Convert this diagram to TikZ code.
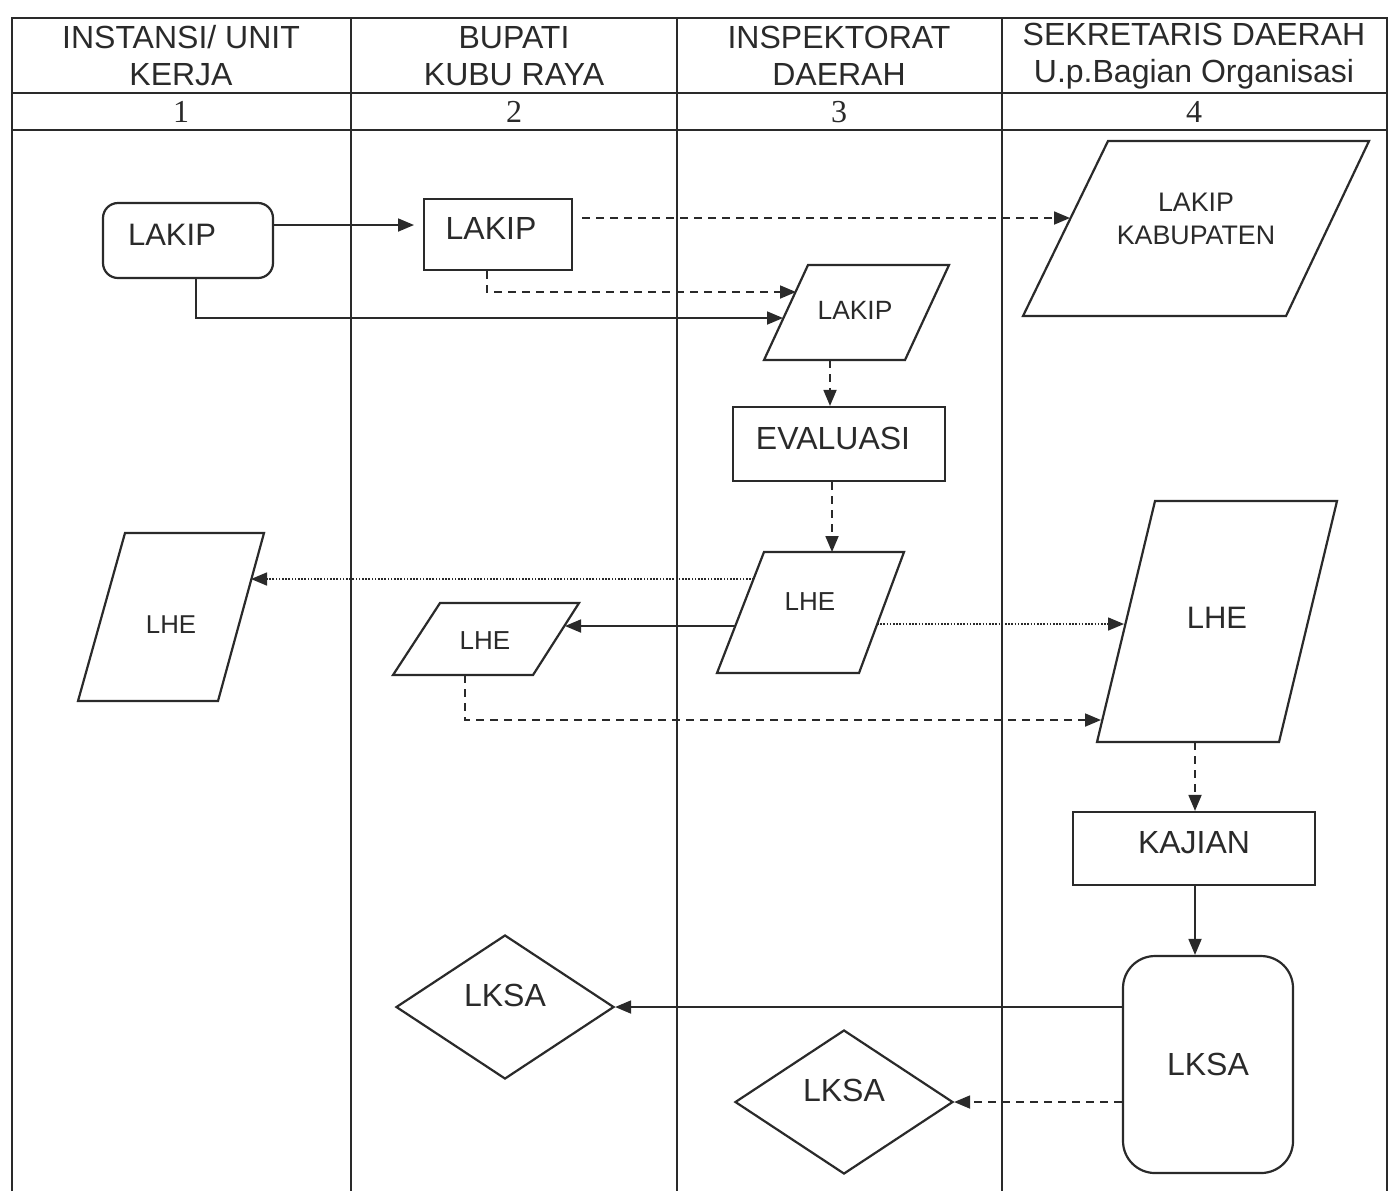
\documentclass[tikz,border=0pt]{standalone}
\usepackage{fontspec}
\setmainfont{Liberation Sans}
\newfontfamily\serifnum{Liberation Serif}
\usetikzlibrary{shapes.geometric,arrows.meta}
\definecolor{ink}{HTML}{2A2A2A}
\begin{document}
\begin{tikzpicture}[x=0.5pt,y=-0.5pt,
  tbl/.style={draw=ink,line width=0.8pt},
  shp/.style={draw=ink,line width=1.1pt,inner sep=0pt},
  arr/.style={draw=ink,line width=0.9pt,-{Triangle[length=8pt,width=6.5pt]}},
  dsh/.style={arr,dash pattern=on 4pt off 3pt},
  dtt/.style={arr,line width=0.8pt,dash pattern=on 0.8pt off 0.8pt},
  hdr/.style={font=\fontsize{16}{18.5}\selectfont,align=center,text=ink},
  num/.style={font=\serifnum\fontsize{16}{18}\selectfont,text=ink},
  lbl/.style={font=\fontsize{#1}{#1}\selectfont,text=ink,inner sep=0pt}]
\useasboundingbox (0,0) rectangle (1395,1191);
\fill[white] (0,0) rectangle (1395,1191);
% table
\draw[tbl] (12,1191) -- (12,18) -- (1387,18) -- (1387,1191);
\draw[tbl] (12,93) -- (1387,93);
\draw[tbl] (12,130) -- (1387,130);
\draw[tbl] (351,18) -- (351,1191);
\draw[tbl] (677,18) -- (677,1191);
\draw[tbl] (1002,18) -- (1002,1191);
\node[hdr] (h1) at (181,56) {INSTANSI/ UNIT\\KERJA};
\node[hdr] (h2) at (514,56) {BUPATI\\KUBU RAYA};
\node[hdr] (h3) at (839,56) {INSPEKTORAT\\DAERAH};
\node[hdr] (h4) at (1194,56) {SEKRETARIS DAERAH\\U.p.Bagian Organisasi};
\node[num] (n1) at (181,112) {1};
\node[num] (n2) at (514,112) {2};
\node[num] (n3) at (839,112) {3};
\node[num] (n4) at (1194,112) {4};
% boxes
\node[shp,rectangle,rounded corners=7.5pt,minimum width=85pt,minimum height=37.5pt,
  label={[lbl=15.5,xshift=-8pt,yshift=2.75pt]center:LAKIP}] (lk1) at (188,240.5) {};
\node[shp,rectangle,minimum width=74pt,minimum height=35.5pt,
  label={[lbl=16,xshift=-3.5pt,yshift=3.25pt]center:LAKIP}] (lk2) at (498,234.5) {};
\node[shp,rectangle,minimum width=106pt,minimum height=37pt,
  label={[lbl=16,xshift=-3pt,yshift=3pt]center:EVALUASI}] (ev) at (839,444) {};
\node[shp,rectangle,minimum width=121pt,minimum height=36.5pt,
  label={[lbl=16,yshift=2.75pt]center:KAJIAN}] (kj) at (1194,848.5) {};
\node[shp,rectangle,rounded corners=16pt,minimum width=85pt,minimum height=108.5pt,
  label={[lbl=16]center:LKSA}] (lks) at (1208,1064.5) {};
\node[shp,diamond,minimum width=109pt,minimum height=72pt,
  label={[lbl=16,yshift=6pt]center:LKSA}] (d1) at (505,1007) {};
\node[shp,diamond,minimum width=109pt,minimum height=72pt,
  label={[lbl=16,yshift=6pt]center:LKSA}] (d2) at (844,1102) {};
% parallelograms
\draw[shp] (1108,141) -- (1369,141) -- (1286,316) -- (1023,316) -- cycle;
\node[lbl=13.4,align=center] (pkab) at (1196,219) {LAKIP\\[3pt]KABUPATEN};
\draw[shp] (808,265) -- (949,265) -- (905,360) -- (764,360) -- cycle;
\node[lbl=13.2] (plk3) at (855,310) {LAKIP};
\draw[shp] (125,533) -- (264,533) -- (218,701) -- (78,701) -- cycle;
\node[lbl=12.9] (phe1) at (171,625) {LHE};
\draw[shp] (440,603) -- (579,603) -- (533,675) -- (393,675) -- cycle;
\node[lbl=13] (phe2) at (485,641) {LHE};
\draw[shp] (764,552) -- (904,552) -- (859,673) -- (717,673) -- cycle;
\node[lbl=13] (phe3) at (810,602) {LHE};
\draw[shp] (1155,501) -- (1337,501) -- (1279,742) -- (1097,742) -- cycle;
\node[lbl=15.5] (phe4) at (1217,618) {LHE};
% connector end points on parallelogram edges
\coordinate (kabW) at (1070,218);
\coordinate (lk3Wa) at (796,292);
\coordinate (lk3Wb) at (783,318);
\coordinate (lk3S) at (830,360);
\coordinate (he3N) at (832,552);
\coordinate (he3Wa) at (754,579);
\coordinate (he1E) at (251,579);
\coordinate (he3Wb) at (735,626);
\coordinate (he2E) at (565,626);
\coordinate (he3E) at (877,624);
\coordinate (he4Wa) at (1124,624);
\coordinate (he2S) at (465,675);
\coordinate (he4Wb) at (1101,720);
\coordinate (he4S) at (1195,742);
\coordinate (lk2tip) at (414,225);
% connectors
\draw[arr] (lk1.east |- lk2tip) -- (lk2tip);
\draw[dsh] ([xshift=4.5pt]lk2.east |- kabW) -- (kabW);
\draw[dsh] ([xshift=-5.5pt]lk2.south) |- (lk3Wa);
\draw[arr] ([xshift=4pt]lk1.south) |- (lk3Wb);
\draw[dsh] (lk3S) -- (lk3S |- ev.north);
\draw[dsh] (ev.south -| he3N) -- (he3N);
\draw[dtt] (he3Wa) -- (he1E);
\draw[arr] (he3Wb) -- (he2E);
\draw[dtt] (he3E) -- (he4Wa);
\draw[dsh] (he2S) |- (he4Wb);
\draw[dsh] (he4S) -- (he4S |- kj.north);
\draw[arr] (kj.south -| he4S) -- (lks.north -| he4S);
\draw[arr] (lks.west |- d1.east) -- (d1.east);
\draw[dsh] (lks.west |- d2.east) -- (d2.east);
\end{tikzpicture}
\end{document}
